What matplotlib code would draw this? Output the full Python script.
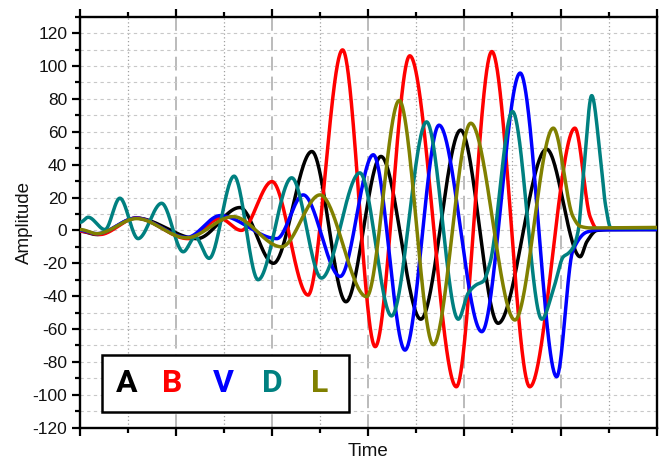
import numpy as np
import matplotlib
matplotlib.use('Agg')
import matplotlib.pyplot as plt
from matplotlib.patches import Rectangle
from matplotlib.ticker import MultipleLocator, NullFormatter

plt.rcParams['axes.unicode_minus'] = False

# ---- data ----
series_names = ['A', 'B', 'V', 'D', 'L']
series_colors = ['#000000', '#ff0000', '#0000ff', '#008080', '#808000']

a_t = [0.00, 0.34, 1.16, 2.43, 3.32, 4.02, 4.82, 5.53, 6.26, 7.09, 7.92, 8.70, 9.71, 10.41, 10.55, 10.76, 11.03, 12.0]
a_y = [-0.5, -2.5, 7.5, -5.0, 13.9, -20.0, 48.0, -43.4, 45.0, -54.0, 61.0, -56.5, 49.4, -16.0, -6.8, 0.0, 0.5, 0.5]

b_t = [0.00, 0.40, 1.16, 2.24, 2.91, 3.35, 3.99, 4.74, 5.46, 6.14, 6.86, 7.83, 8.57, 9.36, 10.30, 10.62, 10.76, 12.0]
b_y = [-0.5, -2.5, 7.5, -5.0, 7.2, 0.0, 29.7, -39.3, 109.8, -70.7, 106.2, -95.1, 108.8, -95.1, 62.2, 8.0, 1.0, 1.0]

v_t = [0.00, 0.34, 1.16, 2.22, 2.91, 4.09, 4.64, 5.41, 6.10, 6.76, 7.47, 8.36, 9.16, 9.92, 10.26, 10.55, 10.80, 12.0]
v_y = [0.0, -2.0, 7.5, -4.2, 9.0, -5.0, 21.6, -28.0, 46.0, -72.8, 64.0, -61.6, 95.7, -89.0, -12.0, -1.0, 0.3, 0.5]

d_t = [0.00, 0.16, 0.51, 0.82, 1.20, 1.69, 2.14, 2.39, 2.68, 3.20, 3.70, 4.40, 5.02, 5.82, 6.48, 7.21, 7.87,
       8.08, 8.25, 8.39, 8.53, 9.00, 9.61, 9.85, 10.06, 10.16, 10.27, 10.37, 10.48, 10.65, 10.83, 10.94, 11.05, 12.0]
d_y = [5.0, 8.0, 0.5, 19.6, -5.0, 16.5, -13.0, -4.0, -17.0, 33.0, -30.0, 32.0, -29.0, 35.0, -52.0, 66.0, -54.0,
       -38.0, -33.0, -31.0, -20.0, 72.3, -54.0, -36.0, -16.0, -14.0, -10.0, 0.0, 35.0, 82.0, 45.0, 15.0, 1.5, 1.5]

l_t = [0.00, 0.34, 1.17, 2.21, 3.18, 4.19, 4.99, 5.96, 6.64, 7.35, 8.13, 9.05, 9.85, 10.26, 10.41, 10.62, 12.0]
l_y = [0.5, -2.0, 7.2, -4.5, 8.4, -10.0, 21.6, -40.3, 79.0, -69.5, 65.2, -54.5, 62.2, 8.4, 2.5, 1.5, 1.8]

series_t = [a_t, b_t, v_t, d_t, l_t]
series_y = [a_y, b_y, v_y, d_y, l_y]

y_ticks = list(range(-120, 121, 20))
x_label = 'Time'
y_label = 'Amplitude'


def smooth(x, y, xs):
    """Monotone cubic (PCHIP) rendering of the read points."""
    x = np.asarray(x, float)
    y = np.asarray(y, float)
    h = np.diff(x)
    d = np.diff(y) / h
    n = len(x)
    m = np.zeros(n)
    for k in range(1, n - 1):
        if d[k - 1] * d[k] > 0:
            w1 = 2 * h[k] + h[k - 1]
            w2 = h[k] + 2 * h[k - 1]
            m[k] = (w1 + w2) / (w1 / d[k - 1] + w2 / d[k])
    idx = np.clip(np.searchsorted(x, xs) - 1, 0, n - 2)
    t = (xs - x[idx]) / h[idx]
    h00 = 2 * t**3 - 3 * t**2 + 1
    h10 = t**3 - 2 * t**2 + t
    h01 = -2 * t**3 + 3 * t**2
    h11 = t**3 - t**2
    return h00 * y[idx] + h10 * h[idx] * m[idx] + h01 * y[idx + 1] + h11 * h[idx] * m[idx + 1]


fig = plt.figure(figsize=(6.63, 4.66), dpi=100)
ax = fig.add_axes([0.1214, 0.0822, 0.8688, 0.8820])

for t, y, c in zip(series_t, series_y, series_colors):
    xs = np.linspace(t[0], t[-1], 1500)
    ax.plot(xs, smooth(t, y, xs), color=c, lw=2.5, solid_capstyle='round', zorder=3)

ax.set_xlim(0, 12)
ax.set_ylim(-120, 130)
ax.xaxis.set_major_locator(MultipleLocator(2))
ax.xaxis.set_minor_locator(MultipleLocator(1))
ax.xaxis.set_major_formatter(NullFormatter())
ax.set_yticks(y_ticks)
ax.yaxis.set_minor_locator(MultipleLocator(10))

# grid
ax.yaxis.grid(True, which='both', linestyle=(0, (3, 3)), color='#c8c8c8', lw=0.8, zorder=0)
ax.xaxis.grid(True, which='major', linestyle=(0, (9, 4)), color='#a8a8a8', lw=1.1, zorder=0)
ax.xaxis.grid(True, which='minor', linestyle=(0, (1, 2)), color='#a0a0a0', lw=0.9, zorder=0)
ax.set_axisbelow(True)

for s in ax.spines.values():
    s.set_linewidth(1.7)
ax.tick_params(axis='both', which='major', direction='out', length=6, width=1.6,
               labelsize=12.5, top=True, right=False, labelcolor='#111111')
ax.tick_params(axis='both', which='minor', direction='out', length=3.3, width=1.6,
               top=True, right=False)
for lab in ax.get_yticklabels():
    lab.set_fontfamily('Liberation Sans')

ax.set_xlabel(x_label, fontsize=13.5, family='Liberation Sans', color='#111111')
ax.set_ylabel(y_label, fontsize=13.5, family='Liberation Sans', color='#111111')
ax.xaxis.set_label_coords(0.5, -0.038)
ax.yaxis.set_label_coords(-0.082, 0.5)
ax.xaxis.label.set_va('top')

# legend box with coloured letters
ax.add_patch(Rectangle((0.44, -110.3), 5.15, 34.5, facecolor='white', edgecolor='black',
                       lw=1.8, zorder=5))
legend_x = [0.97, 1.91, 2.97, 3.99, 4.99]
for name, c, lx in zip(series_names, series_colors, legend_x):
    ax.text(lx, -92.8, name, color=c, fontsize=23, fontweight='bold', family='Roboto',
            ha='center', va='center', zorder=6)

fig.savefig('out.png', dpi=100)
